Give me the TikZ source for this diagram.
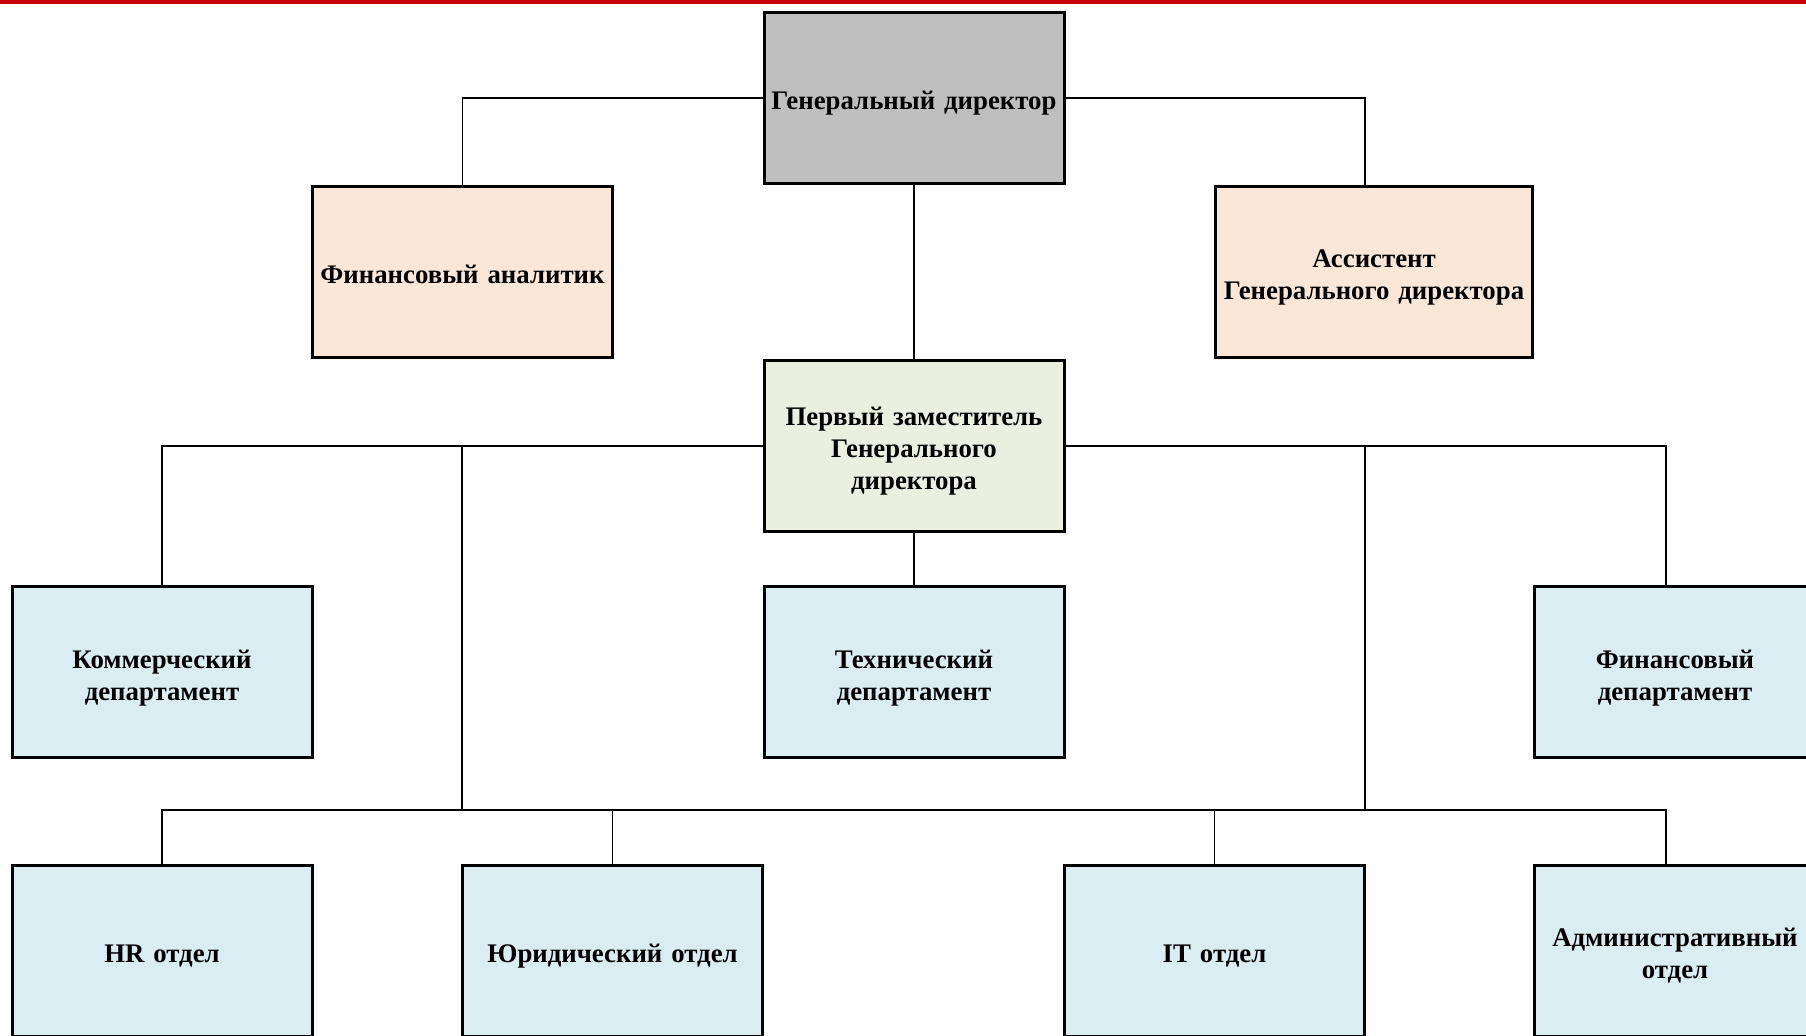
\documentclass[tikz,border=0pt]{standalone}
\usepackage{fontspec}
\setmainfont{Liberation Serif}
\usetikzlibrary{calc, positioning}
\definecolor{topRed}{HTML}{CC0000}
\definecolor{chiefGray}{HTML}{BFBFBF}
\definecolor{aidePeach}{HTML}{FBE7D8}
\definecolor{deputyGreen}{HTML}{EBEFDF}
\definecolor{deptBlue}{HTML}{DAEDF3}
\tikzset{
    boxBase/.style={rectangle, draw=black, line width=1.5pt, align=center, inner sep=2pt, font=\bfseries\fontsize{13.4}{16}\selectfont, minimum width=150pt, minimum height=85.5pt, text width=146pt,
        execute at begin node={\rule{0pt}{14.7pt}}, execute at end node={\rule[-3pt]{0pt}{0pt}}},
    boxChief/.style={boxBase, fill=chiefGray},
    boxAide/.style={boxBase, fill=aidePeach},
    boxDeputy/.style={boxBase, fill=deputyGreen},
    boxDept/.style={boxBase, fill=deptBlue},
    link/.style={draw=black, line width=0.65pt},
}

\begin{document}
\begin{tikzpicture}[x=0.5pt, y=-0.5pt]
        \useasboundingbox (0,0) rectangle (1806,1036);
        \fill[white] (0,0) rectangle (1806,1036);
        \fill[topRed] (0,0) rectangle (1806,4);
        
        \coordinate (colL) at (462,810);
        \coordinate (colR) at (1365,810);
        \coordinate (colFin) at (1666,810);
        
        \node[boxChief] (gd) at (914,98) {Генеральный директор};
        \node[boxAide] (analyst) at (462.5,272) {Финансовый аналитик};
        \node[boxAide, minimum width=158.5pt, text width=154.5pt] (aide) at (1374,272) {Ассистент\\Генерального директора};
        \node[boxDeputy] (deputy) at (914,446) {Первый заместитель\\Генерального\\директора};
        
        \node[boxDept] (comm) at (162,672.5) {Коммерческий\\департамент};
        \node[boxDept] (tech) at (914,672.5) {Технический\\департамент};
        \node[boxDept, minimum width=140.5pt, text width=136.5pt] (fin) at (1675,672.5) {Финансовый\\департамент};
        
        \node[boxDept] (hr) at (162,951) {HR отдел};
        \node[boxDept] (legal) at (612.5,951) {Юридический отдел};
        \node[boxDept] (it) at (1214.5,951) {IT отдел};
        \node[boxDept, minimum width=140.5pt, text width=136.5pt] (admin) at (1675,951) {Административный\\отдел};
        
        \draw[link] (gd.west) -| (analyst.north);
        \draw[link] (gd.east) -| (aide.north -| colR);
        \draw[link] (gd.south) -- (deputy.north);
        \draw[link] (deputy.south) -- (tech.north);
        
        \draw[link] (deputy.west) -| (comm.north);
        \draw[link] (deputy.east) -| (fin.north -| colFin);
        \draw[link] (colL |- deputy.west) -- (colL);
        \draw[link] (colR |- deputy.east) -- (colR);
        
        \draw[link] (hr.north) |- (colL) -- (colR) -| (admin.north -| colFin);
        \draw[link] (legal.north) -- (legal.north |- colL);
        \draw[link] (it.north) -- (it.north |- colR);
    \end{tikzpicture}
\end{document}
